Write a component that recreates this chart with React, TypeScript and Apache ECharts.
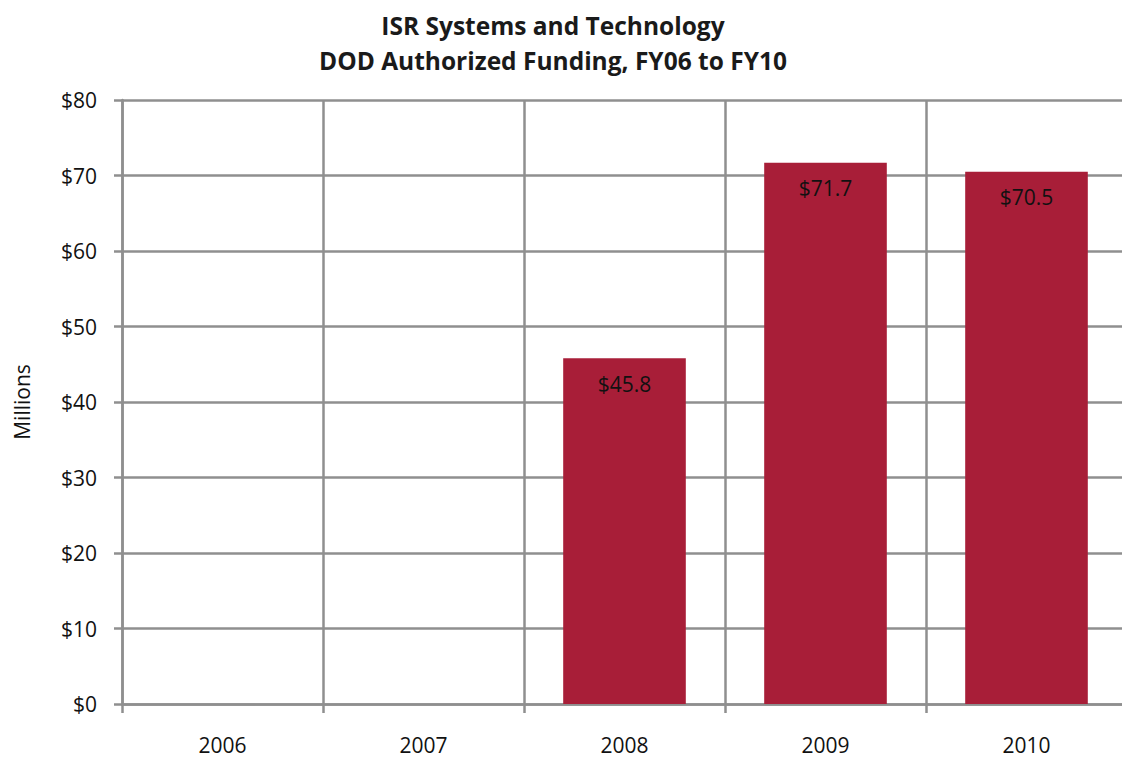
import React, { useEffect, useRef } from "react";
import * as echarts from "echarts";

const categories = ["2006", "2007", "2008", "2009", "2010"];
const values: (number | null)[] = [null, null, 45.8, 71.7, 70.5];
const titleLines = ["ISR Systems and Technology", "DOD Authorized Funding, FY06 to FY10"];
const yAxisName = "Millions";

export default function App() {
  const ref = useRef<HTMLDivElement>(null);
  useEffect(() => {
    if (!ref.current) return;
    const chart = echarts.init(ref.current, null, { renderer: "svg" });
    const gridColor = "#8f8f8f";
    chart.setOption({
      animation: false,
      backgroundColor: "#ffffff",
      title: {
        text: titleLines.join("\n"),
        left: 548,
        textAlign: "center",
        top: 3,
        textStyle: {
          fontFamily: "Open Sans",
          fontWeight: "bold",
          fontSize: 24.5,
          lineHeight: 35,
          color: "#1a1a1a",
        },
      },
      grid: { left: 122, top: 100, width: 1005, height: 604, outerBoundsMode: "none", containLabel: false },
      xAxis: {
        type: "category",
        data: categories,
        boundaryGap: true,
        axisLine: { lineStyle: { color: gridColor, width: 2.5 } },
        axisTick: { show: true, length: 9, alignWithLabel: false, lineStyle: { color: gridColor, width: 2.5 } },
        splitLine: { show: true, lineStyle: { color: gridColor, width: 2.5 } },
        axisLabel: { fontFamily: "Open Sans", fontSize: 21, color: "#111", margin: 30 },
      },
      yAxis: {
        type: "value",
        min: 0,
        max: 80,
        interval: 10,
        name: yAxisName,
        nameLocation: "middle",
        nameGap: 90,
        nameTextStyle: { fontFamily: "Open Sans", fontSize: 21, color: "#111" },
        axisLine: { show: true, lineStyle: { color: gridColor, width: 2.5 } },
        axisTick: { show: true, length: 8, lineStyle: { color: gridColor, width: 2.5 } },
        splitLine: { show: true, lineStyle: { color: gridColor, width: 2.5 } },
        axisLabel: {
          fontFamily: "Open Sans",
          fontSize: 21,
          color: "#111",
          margin: 25,
          formatter: (v: number) => "$" + v,
        },
      },
      series: [
        {
          type: "bar",
          data: values,
          barWidth: "61%",
          itemStyle: { color: "#a81e38" },
          label: {
            show: true,
            position: "insideTop",
            distance: 15,
            fontFamily: "Open Sans",
            fontSize: 21,
            color: "#111",
            formatter: (p: any) => "$" + Number(p.value).toFixed(1),
          },
        },
      ],
    });
    return () => chart.dispose();
  }, []);
  return (
    <div
      ref={ref}
      style={{ position: "fixed", left: 0, top: 0, width: 1122, height: 760, overflow: "hidden" }}
    />
  );
}
